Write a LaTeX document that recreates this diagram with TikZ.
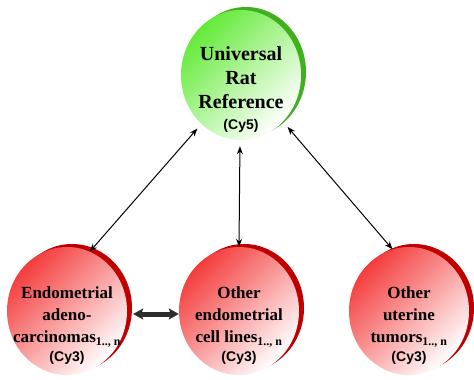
\documentclass[tikz,border=0pt]{standalone}
\usepackage{fontspec}
\setmainfont{Liberation Serif}
\setsansfont{Liberation Sans}
\usepackage{xcolor}
\usepackage{tikz}
\usetikzlibrary{arrows.meta,shapes.geometric,shadows}

\definecolor{refgreen}{RGB}{100,234,56}
\definecolor{refgreendark}{RGB}{64,176,32}
\definecolor{tumorred}{RGB}{244,60,60}
\definecolor{tumorreddark}{RGB}{192,0,0}
\definecolor{fatgray}{RGB}{45,45,45}

\begin{document}
\begin{tikzpicture}[
  x=1pt, y=-1pt,
  ball/.style={ellipse, minimum width=120pt, minimum height=128pt, inner sep=0pt},
  greenball/.style={ball, top color=refgreen, bottom color=white, shading angle=45,
    drop shadow={shadow xshift=5pt, shadow yshift=3pt, opacity=1, fill=refgreendark}},
  redball/.style={ball, top color=tumorred, bottom color=white, shading angle=45,
    drop shadow={shadow xshift=5pt, shadow yshift=3pt, opacity=1, fill=tumorreddark}},
  balltext/.style={align=center, inner sep=0pt, font=\bfseries\fontsize{17}{22}\selectfont},
  link/.style={{Stealth[length=8pt,width=6pt]}-{Stealth[length=8pt,width=6pt]}, line width=1pt},
  fat/.style={{Stealth[length=10pt,width=11pt,inset=2pt]}-{Stealth[length=10pt,width=11pt,inset=2pt]},
    line width=5pt, draw=fatgray}
]
  \useasboundingbox (0,0) rectangle (474,380);

  \node[greenball, minimum height=130pt] (ref) at (241,75) {};
  \node[redball] (endo) at (67,311) {};
  \node[redball] (lines) at (239,311) {};
  \node[redball] (uter) at (409,311) {};

  \node[balltext, font=\bfseries\fontsize{20}{24}\selectfont] (reftext) at ([yshift=-15pt]ref.center)
    {Universal\\Rat\\Reference\\[-3pt]{\sffamily\fontsize{14}{16}\selectfont (Cy5)}};
  \node[balltext] (endotext) at ([yshift=-15pt]endo.center)
    {Endometrial\\adeno-\\carcinomas\textsubscript{1.., n}\\[-3pt]{\sffamily\fontsize{14}{16}\selectfont (Cy3)}};
  \node[balltext] (linestext) at ([yshift=-15pt]lines.center)
    {Other\\endometrial\\cell lines\textsubscript{1.., n}\\[-3pt]{\sffamily\fontsize{14}{16}\selectfont (Cy3)}};
  \node[balltext] (utertext) at ([yshift=-15pt]uter.center)
    {Other\\uterine\\tumors\textsubscript{1.., n}\\[-3pt]{\sffamily\fontsize{14}{16}\selectfont (Cy3)}};

  \draw[link, shorten <=6pt] (ref.231) -- (endo.69);
  \draw[link, shorten <=6pt] ([xshift=-1pt]ref.south) -- (lines.north);
  \draw[link, shorten <=7pt] (ref.312) -- (uter.105);
  \draw[fat, shorten <=6pt] ([yshift=-3pt]endo.east) -- ([yshift=-3pt]lines.west);
\end{tikzpicture}
\end{document}
